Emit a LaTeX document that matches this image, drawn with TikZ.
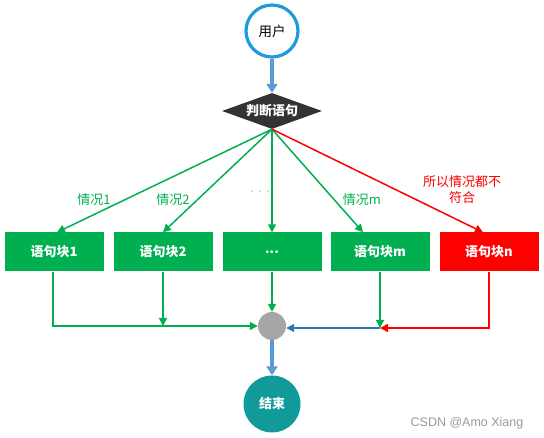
\documentclass[tikz,border=0pt]{standalone}
\usepackage{fontspec}
\setmainfont{Noto Sans CJK SC}
\newfontfamily\markfont{Liberation Sans}
\usetikzlibrary{arrows.meta, shapes.geometric}
\definecolor{okgreen}{HTML}{00B050}
\definecolor{badred}{HTML}{FF0000}
\definecolor{ringblue}{HTML}{1E9BDC}
\definecolor{flowblue}{HTML}{5B9BD5}
\definecolor{joinblue}{HTML}{2E75B6}
\definecolor{endteal}{HTML}{109A9A}

\begin{document}
\begin{tikzpicture}[x=1pt, y=-1pt,
  block/.style={rectangle, minimum width=99pt, minimum height=39pt, inner sep=0pt,
                text=white, font=\fontsize{13}{15}\selectfont\bfseries},
  gline/.style={line width=1.5pt, okgreen, -{Triangle[length=8pt, width=8pt]}},
  rline/.style={line width=1.5pt, badred, -{Triangle[length=8pt, width=8pt]}},
  bline/.style={line width=1.5pt, joinblue, -{Triangle[length=8pt, width=8pt]}},
  flow/.style={line width=3.2pt, flowblue, -{Triangle[length=9pt, width=11pt]}},
  case/.style={font=\fontsize{13}{15}\selectfont, text=okgreen},
]
\useasboundingbox (0,0) rectangle (544,438);

% start and decision
\node[circle, draw=ringblue, line width=3.2pt, fill=white, minimum size=52pt,
      inner sep=0pt, font=\fontsize{13.5}{15}\selectfont] (user) at (272, 31) {用户};
\node[diamond, fill=black!80, aspect=2.8, minimum width=100pt, minimum height=36pt,
      inner sep=0pt, text=white, font=\fontsize{13}{15}\selectfont\bfseries]
  (judge) at (272, 111) {判断语句};

% statement blocks
\node[block, fill=okgreen] (b1) at (54, 252) {语句块1};
\node[block, fill=okgreen] (b2) at (163, 252) {语句块2};
\node[block, fill=okgreen] (b3) at (272, 252) {...};
\node[block, fill=okgreen] (bm) at (380, 252) {语句块m};
\node[block, fill=badred] (bn) at (489, 252) {语句块n};

% merge point and end
\node[circle, fill=black!35, minimum size=28pt, inner sep=0pt] (join) at (272, 326) {};
\node[circle, fill=endteal, minimum size=57pt, inner sep=0pt, text=white,
      font=\fontsize{13}{15}\selectfont\bfseries] (end) at (272, 404) {结束};

\draw[flow] (user) -- (judge);

\draw[gline] (judge.south) -- ([xshift=3pt]b1.north);
\draw[gline] (judge.south) -- (b2.north);
\draw[gline] (judge.south) -- (b3.north);
\draw[gline] (judge.south) -- ([xshift=-17pt]bm.north);
\draw[rline] (judge.south) -- ([xshift=-6pt]bn.north);

\node[case] (c1) at (94, 200) {情况1};
\node[case] (c2) at (173, 200) {情况2};
\node[case] (c3) at (260, 192) {$\cdot\,\cdot\,\cdot$};
\node[case] (cm) at (362, 200) {情况m};
\node[font=\fontsize{13}{16}\selectfont, text=badred, align=center]
  (cn) at (462, 190) {所以情况都不\\符合};

\path (join.east -| bm.south) ++(0, 2) coordinate (merge);

\draw[gline] ([xshift=-1pt]b1.south) |- (join.west);
\draw[gline] (b2.south) -- (b2.south |- join.west);
\draw[gline] (b3.south) -- (join.north);
\draw[gline] (bm.south) -- (merge);
\draw[rline] (bn.south) |- (merge);
\draw[bline] (merge) -- (merge -| join.east);

\draw[flow] (join) -- (end);

\node[text=black!40, font=\markfont\fontsize{12.5}{14}\selectfont] (mark) at (467, 423)
  {CSDN @Amo Xiang};
\end{tikzpicture}
\end{document}
